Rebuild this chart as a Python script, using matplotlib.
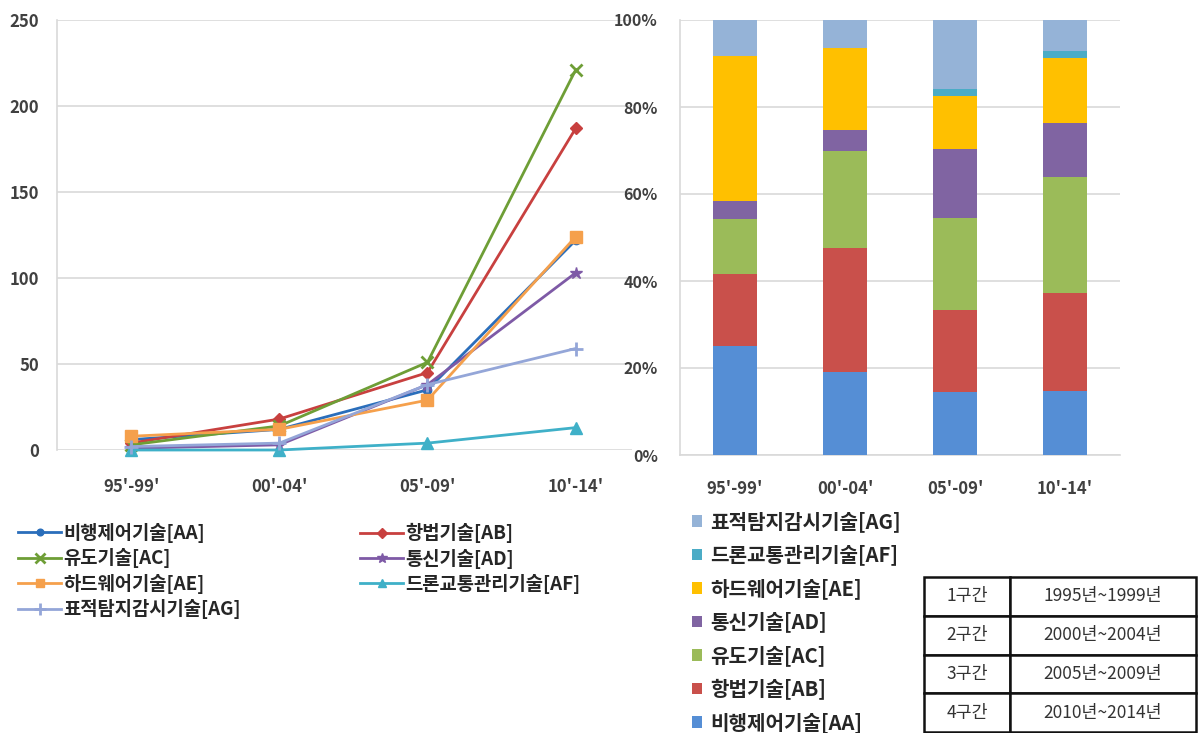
import matplotlib
matplotlib.use("Agg")
import matplotlib.pyplot as plt
from matplotlib.lines import Line2D
from matplotlib.patches import Patch
import numpy as np

plt.rcParams['font.family'] = ['Noto Sans CJK KR', 'DejaVu Sans']

# Periods (x categories)
periods = ["95'-99'", "00'-04'", "05'-09'", "10'-14'"]

# Patent counts per technology per period
aa = [6, 12, 35, 122]    # 비행제어기술
ab = [4, 18, 45, 187]    # 항법기술
ac = [3, 14, 51, 221]    # 유도기술
ad = [1, 3, 38, 103]     # 통신기술
ae = [8, 12, 29, 124]    # 하드웨어기술
af = [0, 0, 4, 13]       # 드론교통관리기술
ag = [2, 4, 38, 59]      # 표적탐지감시기술

names = ["비행제어기술[AA]", "항법기술[AB]", "유도기술[AC]", "통신기술[AD]",
         "하드웨어기술[AE]", "드론교통관리기술[AF]", "표적탐지감시기술[AG]"]

y_ticks_left = [0, 50, 100, 150, 200, 250]
y_ticks_right = [0, 20, 40, 60, 80, 100]

table_rows = [["1구간", "1995년~1999년"],
              ["2구간", "2000년~2004년"],
              ["3구간", "2005년~2009년"],
              ["4구간", "2010년~2014년"]]

series = [aa, ab, ac, ad, ae, af, ag]

line_colors = ["#2A6EBB", "#C8403F", "#6E9E36", "#7E5AA6", "#F5A04C", "#3FB0C8", "#94A6D8"]
markers = ["o", "D", "x", "*", "s", "^", "+"]
msizes = [6, 6, 9, 9, 8, 8, 10]

bar_colors = ["#558ED5", "#C9504B", "#9BBB59", "#8064A2", "#FFC000", "#4BACC6", "#95B3D7"]

W, H = 1198, 733
fig = plt.figure(figsize=(W / 100, H / 100), dpi=100)
fig.patch.set_facecolor("white")

def px_rect(x0, y0, x1, y1):
    return [x0 / W, 1 - y1 / H, (x1 - x0) / W, (y1 - y0) / H]

grid_col = "#D9D9D9"
tick_col = "#404040"

# ---- Line chart ----
axl = fig.add_axes(px_rect(57, 20, 632, 450))
x = np.arange(len(periods))
for vals, c, m, ms in zip(series, line_colors, markers, msizes):
    mew = 2.0 if m in ("x", "+") else 1.0
    axl.plot(x, vals, color=c, lw=2.0, marker=m, markersize=ms,
             markeredgewidth=mew, markeredgecolor=c, markerfacecolor=c, clip_on=False, zorder=3)
axl.set_ylim(0, 250)
axl.set_xlim(-0.5, 3.38)
axl.set_yticks(y_ticks_left)
axl.set_xticks(x)
axl.set_xticklabels(periods)
axl.yaxis.grid(True, color=grid_col, lw=1.2)
axl.set_axisbelow(True)
for s in ["top", "right", "bottom"]:
    axl.spines[s].set_visible(False)
axl.spines["left"].set_color(grid_col)
axl.spines["left"].set_linewidth(1.2)
axl.tick_params(axis="both", length=0, colors=tick_col, labelsize=11.5)
axl.tick_params(axis="y", pad=13)
axl.tick_params(axis="x", pad=20)
for lab in axl.get_xticklabels() + axl.get_yticklabels():
    lab.set_fontweight("bold")
    lab.set_fontsize(12)

# ---- 100% stacked bar chart ----
axr = fig.add_axes(px_rect(680, 20, 1120, 455))
totals = np.sum(np.array(series, dtype=float), axis=0)
bottom = np.zeros(len(periods))
for vals, c in zip(series, bar_colors):
    pct = np.array(vals, dtype=float) / totals * 100
    axr.bar(x, pct, width=0.4, bottom=bottom, color=c, zorder=3)
    bottom += pct
axr.set_ylim(0, 100)
axr.set_xlim(-0.5, 3.5)
axr.set_yticks(y_ticks_right)
axr.set_yticklabels([f"{v}%" for v in y_ticks_right])
axr.set_xticks(x)
axr.set_xticklabels(periods)
axr.yaxis.grid(True, color=grid_col, lw=1.2)
axr.set_axisbelow(True)
for s in ["top", "right"]:
    axr.spines[s].set_visible(False)
for s in ["left", "bottom"]:
    axr.spines[s].set_color(grid_col)
    axr.spines[s].set_linewidth(1.2)
axr.tick_params(axis="both", length=0, colors=tick_col, labelsize=11.5)
axr.tick_params(axis="y", pad=16)
axr.tick_params(axis="x", pad=18)
for lab in axr.get_xticklabels() + axr.get_yticklabels():
    lab.set_fontweight("bold")
for lab in axr.get_xticklabels():
    lab.set_fontsize(12)

# ---- Legends for line chart (two columns) ----
def line_handle(i):
    m = markers[i]
    mew = 2.0 if m in ("x", "+") else 1.0
    return Line2D([0], [0], color=line_colors[i], lw=2.0, marker=m, markersize=msizes[i] * 0.8,
                  markeredgewidth=mew, markeredgecolor=line_colors[i], markerfacecolor=line_colors[i])

leg_font = dict(size=13.5, weight="bold")
col1 = [0, 2, 4, 6]
col2 = [1, 3, 5]
leg_kw = dict(loc="upper left", frameon=False, prop=leg_font, handlelength=2.3,
              handletextpad=0.12, labelspacing=0.29, borderaxespad=0, borderpad=0)
leg1 = fig.legend([line_handle(i) for i in col1], [names[i] for i in col1],
                  bbox_to_anchor=(18 / W, 1 - 523 / H), **leg_kw)
leg2 = fig.legend([line_handle(i) for i in col2], [names[i] for i in col2],
                  bbox_to_anchor=(360 / W, 1 - 523 / H), **leg_kw)
for lg in (leg1, leg2):
    for t in lg.get_texts():
        t.set_color("#262626")

# ---- Legend for bar chart ----
order = list(range(6, -1, -1))
leg3 = fig.legend([Patch(facecolor=bar_colors[i], edgecolor="none") for i in order],
                  [names[i] for i in order],
                  loc="upper left", bbox_to_anchor=(692 / W, 1 - 511 / H), frameon=False,
                  prop=dict(size=14.5, weight="bold"), handlelength=0.5, handleheight=0.5,
                  handletextpad=0.4, labelspacing=0.62, borderaxespad=0, borderpad=0)
for t in leg3.get_texts():
    t.set_color("#262626")

# ---- Period table ----
axt = fig.add_axes(px_rect(924, 577, 1196, 732))
axt.axis("off")
tbl = axt.table(cellText=table_rows, colWidths=[86 / 272, 186 / 272],
                cellLoc="center", bbox=[0, 0, 1, 1])
tbl.auto_set_font_size(False)
for (r, c), cell in tbl.get_celld().items():
    cell.set_edgecolor("#111111")
    cell.set_linewidth(1.8)
    cell.get_text().set_fontsize(12.5)
    cell.get_text().set_color("#333333")

fig.savefig("out.png", dpi=100, facecolor="white")
